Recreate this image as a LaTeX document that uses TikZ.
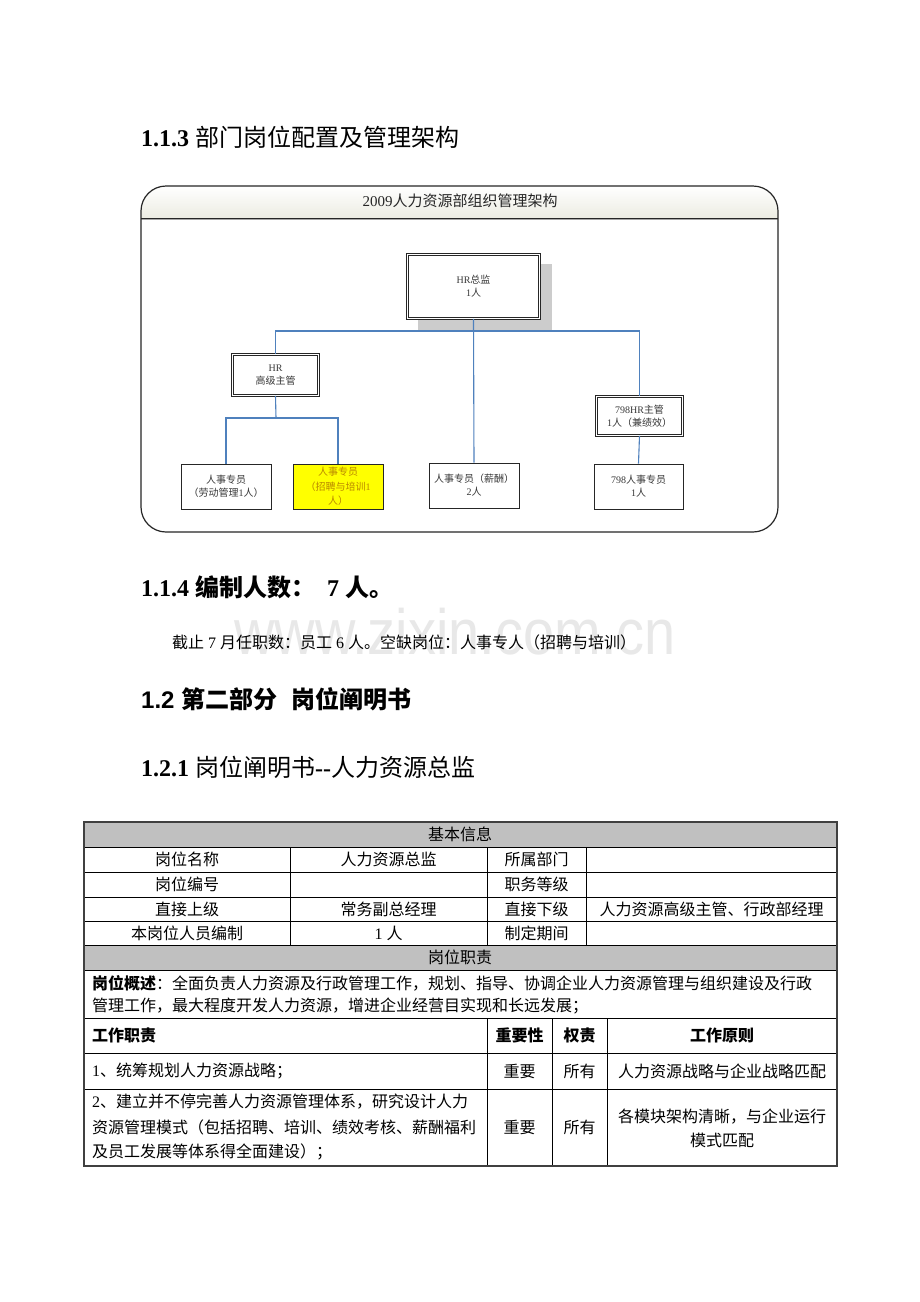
\documentclass[tikz,border=0pt]{standalone}
\usepackage{fontspec}
\setmainfont{Liberation Serif}
\newfontfamily\cjk{Noto Sans CJK SC}
\newfontfamily\arialf{Liberation Sans}
\newcommand\ZH[1]{{\cjk #1}}
\definecolor{linkblue}{RGB}{79,129,189}
\definecolor{hdrgray}{RGB}{192,192,192}
\definecolor{ochre}{RGB}{185,135,0}
\definecolor{wmgray}{RGB}{232,232,232}
\definecolor{bandbot}{RGB}{236,236,226}
\definecolor{chartyellow}{RGB}{255,255,0}
\begin{document}
\begin{tikzpicture}[x=1pt,y=-1pt,
  orgbox/.style={draw=black!85, fill=white, line width=0.9pt, inner sep=0pt, align=center,
     text=black!78, font=\fontsize{10}{13}\selectfont},
  dblbox/.style={orgbox, double=white, double distance=1.4pt, line width=0.8pt},
  link/.style={draw=linkblue, line width=1.1pt},
  txt/.style={inner sep=0pt, font=\fontsize{16}{20}\selectfont},
  head/.style={inner sep=0pt, anchor=west, font=\fontsize{24}{28}\selectfont},
  tline/.style={draw=black, line width=0.8pt}
]
\useasboundingbox (0,0) rectangle (920,1302);
\fill[white] (0,0) rectangle (920,1302);

% ---------- headings ----------
\node[head] (h113) at (141,137) {\bfseries 1.1.3 \ZH{\mdseries 部门岗位配置及管理架构}};

% ---------- org chart frame ----------
\begin{scope}
  \clip[rounded corners=25pt] (141,186) rectangle (778,532);
  \shade[top color=white, bottom color=bandbot] (141,186) rectangle (778,218);
\end{scope}
\draw[black!85, line width=1pt] (141,218) -- (778,218);
\draw[black!35, line width=1pt] (141,219.6) -- (778,219.6);
\draw[black!85, line width=1.2pt, rounded corners=25pt] (141,186) rectangle (778,532);
\node[inner sep=0pt, text=black!85, font=\fontsize{15}{18}\selectfont] (ctitle) at (460,201) {2009\ZH{人力资源部组织管理架构}};

% shadow of top box
\fill[black!20] (418,264) rectangle (552,331);

% connectors (drawn below boxes)
\coordinate (bus) at (474,331);
\coordinate (subbus) at (276,418);

% boxes
\node[dblbox, minimum width=132pt, minimum height=64pt] (dir) at (473.5,286.5) {HR\ZH{总监}\\1\ZH{人}};
\node[dblbox, minimum width=86pt, minimum height=41pt] (sr) at (275.5,375) {HR\\\ZH{高级主管}};
\node[dblbox, minimum width=86pt, minimum height=39pt] (m798) at (639.5,416) {798HR\ZH{主管}\\1\ZH{人（兼绩效）}};
\node[orgbox, minimum width=90pt, minimum height=45pt] (lab) at (226,486.5) {\ZH{人事专员}\\\ZH{（劳动管理}1\ZH{人）}};
\node[orgbox, fill=chartyellow, text=ochre, minimum width=90pt, minimum height=45pt,
      font=\fontsize{10}{14.5}\selectfont] (rec) at (338,486.5) {\ZH{人事专员}\\\ZH{（招聘与培训}1\\\ZH{人）}};
\node[orgbox, minimum width=90pt, minimum height=45pt] (pay) at (474,485.5) {\ZH{人事专员（薪酬）}\\2\ZH{人}};
\node[orgbox, minimum width=89pt, minimum height=45pt] (s798) at (638.5,486.5) {798\ZH{人事专员}\\1\ZH{人}};

\draw[link] (dir.south) -- (pay.north);
\draw[link] (sr.north) |- (bus) -| (m798.north);
\draw[link] (m798.south) -- (s798.north);
\draw[link] (sr.south) -- (subbus);
\draw[link] (lab.north) |- (subbus) -| (rec.north);

% ---------- 1.1.4 ----------
\node[inner sep=0pt, anchor=base, font=\fontsize{64}{64}\selectfont\arialf, text=wmgray] (wmk) at (455,654)
  {\scalebox{0.874}[1]{www.zixin.com.cn}};
\node[head] (h114) at (141,587) {\bfseries 1.1.4 \ZH{编制人数：}\hspace{12pt}7 \ZH{人。}};
\node[txt, anchor=west] (body) at (172,642) {\ZH{截止} 7 \ZH{月任职数：员工} 6 \ZH{人。空缺岗位：人事专人（招聘与培训）}};

% ---------- 1.2 / 1.2.1 ----------
\node[head] (h12) at (141,699) {\bfseries\arialf 1.2 \ZH{第二部分}\hspace{8pt} \ZH{岗位阐明书}};
\node[head] (h121) at (141,767) {\bfseries 1.2.1 \ZH{\mdseries 岗位阐明书}-{}-\ZH{\mdseries 人力资源总监}};

% ---------- table ----------
\fill[hdrgray] (84,822) rectangle (837,847);
\fill[hdrgray] (84,945) rectangle (837,970);
\foreach \yy in {847,872,897,921,945,970,1018,1053,1089}
  \draw[tline] (84,\yy) -- (837,\yy);
\foreach \xx in {290,487,586}
  \draw[tline] (\xx,847) -- (\xx,945);
\foreach \xx in {487,552,607}
  \draw[tline] (\xx,1018) -- (\xx,1166);
\draw[black!75, line width=1.3pt] (84,822) rectangle (837,1166);

\node[txt] (t0) at (460,834.5) {\ZH{基本信息}};
\node[txt] (t11) at (187,859.5) {\ZH{岗位名称}};
\node[txt] (t12) at (388.5,859.5) {\ZH{人力资源总监}};
\node[txt] (t13) at (536.5,859.5) {\ZH{所属部门}};
\node[txt] (t21) at (187,884.5) {\ZH{岗位编号}};
\node[txt] (t23) at (536.5,884.5) {\ZH{职务等级}};
\node[txt] (t31) at (187,909) {\ZH{直接上级}};
\node[txt] (t32) at (388.5,909) {\ZH{常务副总经理}};
\node[txt] (t33) at (536.5,909) {\ZH{直接下级}};
\node[txt] (t34) at (711.5,909) {\ZH{人力资源高级主管、行政部经理}};
\node[txt] (t41) at (187,933) {\ZH{本岗位人员编制}};
\node[txt] (t42) at (388.5,933) {1 \ZH{人}};
\node[txt] (t43) at (536.5,933) {\ZH{制定期间}};
\node[txt] (t5) at (460,957.5) {\ZH{岗位职责}};
\node[txt, anchor=west] (ov1) at (92,983) {\ZH{\bfseries 岗位概述}\ZH{：全面负责人力资源及行政管理工作，规划、指导、协调企业人力资源管理与组织建设及行政}};
\node[txt, anchor=west] (ov2) at (92,1006) {\ZH{管理工作，最大程度开发人力资源，增进企业经营目实现和长远发展；}};
\node[txt, anchor=west] (w1) at (92,1035.5) {\ZH{\bfseries 工作职责}};
\node[txt] (w2) at (519.5,1035.5) {\ZH{\bfseries 重要性}};
\node[txt] (w3) at (579.5,1035.5) {\ZH{\bfseries 权责}};
\node[txt] (w4) at (722,1035.5) {\ZH{\bfseries 工作原则}};
\node[txt, anchor=west] (r11) at (92,1071) {1\ZH{、统筹规划人力资源战略；}};
\node[txt] (r12) at (519.5,1071) {\ZH{重要}};
\node[txt] (r13) at (579.5,1071) {\ZH{所有}};
\node[txt] (r14) at (722,1071) {\ZH{人力资源战略与企业战略匹配}};
\node[txt, anchor=west] (r21a) at (92,1102) {2\ZH{、建立并不停完善人力资源管理体系，研究设计人力}};
\node[txt, anchor=west] (r21b) at (92,1127) {\ZH{资源管理模式（包括招聘、培训、绩效考核、薪酬福利}};
\node[txt, anchor=west] (r21c) at (92,1152) {\ZH{及员工发展等体系得全面建设）；}};
\node[txt] (r22) at (519.5,1127) {\ZH{重要}};
\node[txt] (r23) at (579.5,1127) {\ZH{所有}};
\node[txt, align=center, font=\fontsize{16}{24}\selectfont] (r24) at (722,1128) {\ZH{各模块架构清晰，与企业运行}\\\ZH{模式匹配}};
\end{tikzpicture}
\end{document}
